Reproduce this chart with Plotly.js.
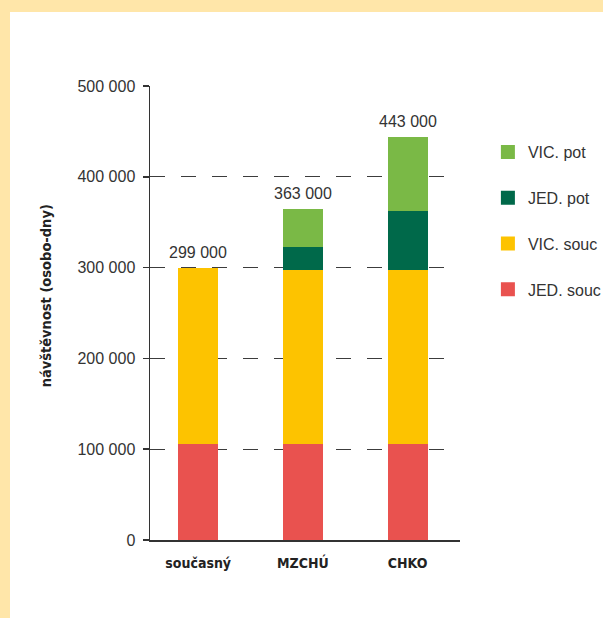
<!DOCTYPE html>
<html>
<head>
<meta charset="utf-8">
<script src="https://cdn.plot.ly/plotly-3.0.1.min.js"></script>
<style>
  html, body { margin: 0; padding: 0; background: #FFE6A9; overflow: hidden; }
  #frame { position: absolute; left: 10px; top: 12px; width: 593px; height: 606px; background: #ffffff; overflow: hidden; }
  #chart { width: 640px; height: 606px; }
</style>
</head>
<body>
<div id="frame"><div id="chart"></div></div>
<script>
// Visitor-days by scenario, split into current and potential visitors
const categories = ['současný', 'MZCHÚ', 'CHKO'];
const jedSouc = [107000, 107000, 107000];
const vicSouc = [192000, 192000, 192000];
const jedPot  = [null, 25000, 64000];
const vicPot  = [null, 39000, 80000];

const seriesNames  = ['JED. souc', 'VIC. souc', 'JED. pot', 'VIC. pot'];
const seriesValues = [jedSouc, vicSouc, jedPot, vicPot];
const seriesColors = ['#E9524F', '#FDC300', '#00694A', '#7AB946'];

const totals = categories.map((_, i) => seriesValues.reduce((s, v) => s + (v[i] || 0), 0));

const traces = seriesNames.map((name, k) => ({
  type: 'bar',
  name: name,
  x: categories,
  y: seriesValues[k],
  legendgroup: name,
  legendrank: seriesNames.length - k,
  marker: { color: seriesColors[k], line: { width: 2, color: seriesColors[k] } },
  hoverinfo: 'none'
}));

const fmt = v => String(v).replace(/\B(?=(\d{3})+(?!\d))/g, ' ');

const condensed = 'DejaVu Sans Condensed, Liberation Sans Narrow, Arial Narrow, sans-serif';

const annotations = categories.map((c, i) => ({
  x: c, y: totals[i], xref: 'x', yref: 'y',
  text: fmt(totals[i]),
  showarrow: false, yanchor: 'bottom', yshift: 6,
  font: { family: 'Liberation Sans, Arial, sans-serif', size: 16, color: '#333333' }
}));

// rotated y-axis caption
annotations.push({
  xref: 'paper', yref: 'paper', x: -0.335, y: 0.537,
  xanchor: 'center', yanchor: 'middle', textangle: -90, showarrow: false,
  text: 'návštěvnost (osobo-dny)',
  font: { family: condensed, size: 14.5, color: '#222222', weight: 'bold' }
});

const layout = {
  width: 640, height: 606,
  margin: { l: 140, r: 190, t: 74, b: 78 },
  paper_bgcolor: '#ffffff',
  plot_bgcolor: '#ffffff',
  barmode: 'stack',
  bargap: 0.637,
  separators: '. ',
  showlegend: true,
  legend: {
    x: 1.09, xanchor: 'left', y: 0.892, yanchor: 'top',
    traceorder: 'grouped',
    tracegroupgap: 22,
    font: { family: 'Liberation Sans, Arial, sans-serif', size: 16, color: '#333333' },
    bgcolor: 'rgba(0,0,0,0)'
  },
  xaxis: {
    type: 'category',
    range: [-0.46, 2.5],
    showline: true, linecolor: '#333333', linewidth: 1.5,
    ticks: '', showgrid: false, zeroline: false,
    ticklabelstandoff: 10,
    tickfont: { family: condensed, size: 14, color: '#222222', weight: 'bold' }
  },
  yaxis: {
    range: [0, 500000],
    tickvals: [0, 100000, 200000, 300000, 400000, 500000],
    tickformat: ',d',
    showline: true, linecolor: '#333333', linewidth: 1.5,
    ticks: 'outside', ticklen: 6, tickcolor: '#333333', tickwidth: 1.5,
    showgrid: true, gridcolor: '#3c3c3c', gridwidth: 1, griddash: '15px,16px',
    zeroline: false,
    ticklabelstandoff: 4,
    tickfont: { family: 'Liberation Sans, Arial, sans-serif', size: 16, color: '#333333' }
  },
  annotations: annotations
};

Plotly.newPlot('chart', traces, layout, { displayModeBar: false, staticPlot: true });
</script>
</body>
</html>
